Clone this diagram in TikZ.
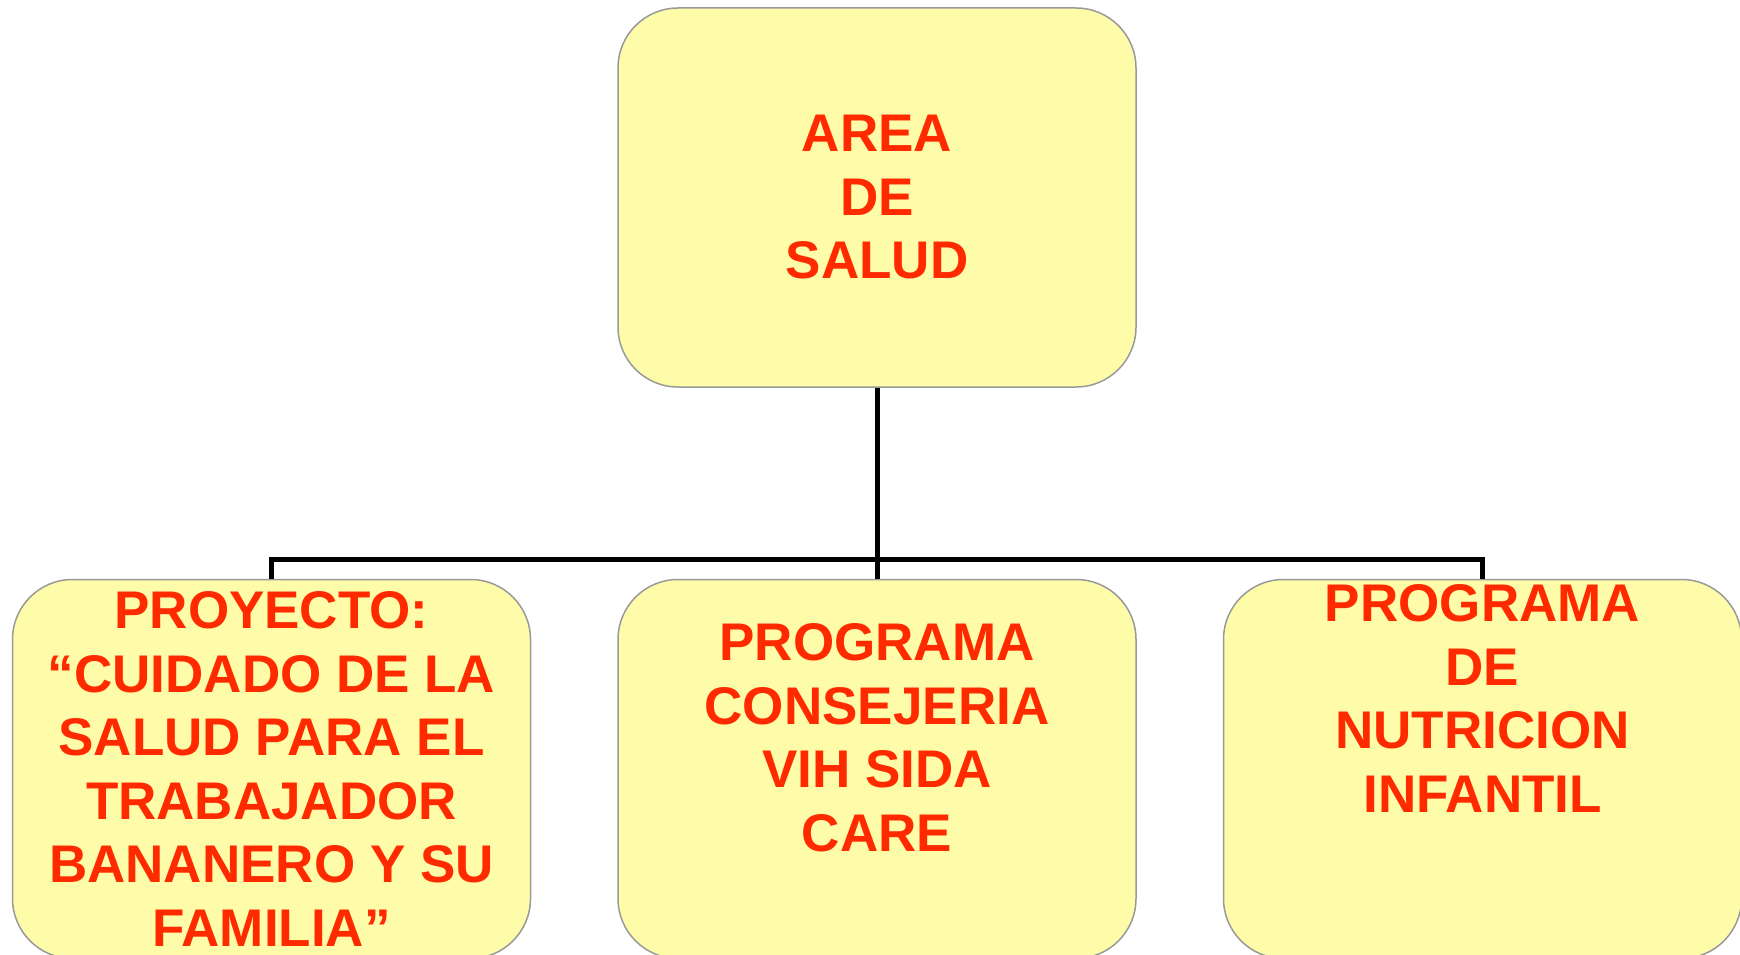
\documentclass[tikz,border=0pt]{standalone}
\usepackage{fontspec}
\setmainfont{Liberation Sans}
\usetikzlibrary{positioning}
\definecolor{saludrojo}{HTML}{FF2A00}
\definecolor{saludfondo}{HTML}{FFFCA9}
\definecolor{saludborde}{HTML}{999999}

\begin{document}
\begin{tikzpicture}[x=1pt, y=-1pt, node distance=191pt and 86pt]
    \tikzstyle{caja}=[draw=saludborde,fill=saludfondo,line width=1.5pt,rounded corners=60pt,
        minimum width=518pt,minimum height=379pt,inner sep=0pt,align=center,text=saludrojo,
        font=\fontsize{53}{63.5}\selectfont\bfseries]
    \tikzstyle{linea}=[draw=black,line width=5pt]
    \useasboundingbox (0,0) rectangle (1740,955);
    \node[caja]    (area)  at (877,197.5)     {AREA\\DE\\SALUD};
    \node[caja]    (vih)   [below=of area]    {PROGRAMA\\CONSEJERIA\\VIH SIDA\\CARE\\\mbox{}};
    \node[caja]    (proy)  [left=of vih]      {PROYECTO:\\“CUIDADO DE LA\\SALUD PARA EL\\TRABAJADOR\\BANANERO Y SU\\FAMILIA”};
    \node[caja]    (nutri) [right=of vih]     {PROGRAMA\\DE\\NUTRICION\\INFANTIL\\\mbox{}\\[14pt]\mbox{}};
    \coordinate    (bus)   at (877,559);
    \draw[linea] (area.south) -- (bus);
    \draw[linea] (proy.north) |- (bus) -| (nutri.north);
    \draw[linea] (bus) -- (vih.north);
\end{tikzpicture}
\end{document}
